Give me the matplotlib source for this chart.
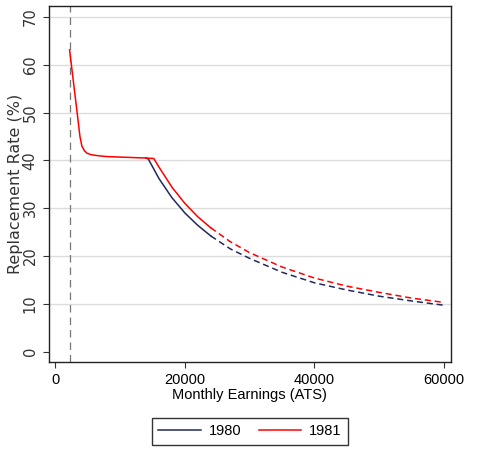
import numpy as np
import matplotlib.pyplot as plt

# Replacement rate by monthly earnings, 1980 vs 1981
# common low-earnings part (both years overlap)
low_x = [2200, 2600, 3000, 3400, 3800, 4100, 4500, 4900, 5500, 6500, 8000, 10000, 12000, 14000]
low_y = [63.1, 58.6, 54.1, 49.6, 45.0, 43.0, 42.0, 41.5, 41.2, 41.0, 40.8, 40.7, 40.6, 40.5]

# 1980: solid part above the plateau, then dashed extrapolation
x80_solid = [14000, 14350, 16000, 18000, 20000, 22000, 24000]
y80_solid = [40.5, 40.3, 36.2, 32.2, 29.0, 26.4, 24.2]
x80_dash = [24000, 27000, 30000, 35000, 40000, 45000, 50000, 55000, 60000]
y80_dash = [24.2, 21.5, 19.5, 16.6, 14.4, 12.9, 11.6, 10.6, 9.7]

# 1981
x81_solid = [14000, 15200, 16000, 18000, 20000, 22000, 24000]
y81_solid = [40.5, 40.4, 38.6, 34.4, 31.0, 28.2, 25.9]
x81_dash = [24000, 27000, 30000, 35000, 40000, 45000, 50000, 55000, 60000]
y81_dash = [25.9, 23.0, 20.7, 17.7, 15.4, 13.7, 12.4, 11.2, 10.3]

vline_x = 2200
yticks = [0, 10, 20, 30, 40, 50, 60, 70]
xticks = [0, 20000, 40000, 60000]

navy = '#1f2b5a'
narrow = ['Liberation Sans', 'DejaVu Sans']

fig = plt.figure(figsize=(4.8, 4.51), dpi=100)
ax = fig.add_axes([0.1015, 0.198, 0.838, 0.7887])

for y in yticks[1:]:
    ax.axhline(y, color='#dcdcdc', lw=1.0, zorder=0)

ax.axvline(vline_x, color='#777777', lw=0.9, ls=(0, (6, 4)), zorder=1)

l80, = ax.plot(x80_solid, y80_solid, color=navy, lw=1.1, label='1980')
ax.plot(x80_dash, y80_dash, color=navy, lw=1.1, ls=(0, (4, 2.5)))
l81, = ax.plot(x81_solid, y81_solid, color='red', lw=1.1, label='1981')
ax.plot(x81_dash, y81_dash, color='red', lw=1.1, ls=(0, (4, 2.5)))
ax.plot(low_x, low_y, color='red', lw=1.1)

ax.set_xlim(-1020, 61065)
ax.set_ylim(-2.1, 72.3)

ax.set_yticks(yticks)
ax.set_yticklabels([str(t) for t in yticks], rotation=90, va='center',
                   fontsize=10.5, color='#333333')
ax.set_xticks(xticks)
ax.set_xticklabels([str(t) for t in xticks], fontsize=10.5, family=narrow)
ax.tick_params(axis='both', direction='out', length=4, width=0.8, color='#333333')
ax.tick_params(axis='x', pad=4)
ax.tick_params(axis='y', pad=4)

ax.set_ylabel('Replacement Rate (%)', fontsize=11.5, color='#333333', labelpad=-0.5)
ax.set_xlabel('Monthly Earnings (ATS)', fontsize=10.5, family=narrow, labelpad=1)

for s in ax.spines.values():
    s.set_linewidth(1.0)
    s.set_color('#222222')

leg = fig.legend(handles=[l80, l81], loc='center', bbox_to_anchor=(0.521, 0.044),
                 ncol=2, frameon=True, fancybox=False, handlelength=2.9,
                 handletextpad=0.55, columnspacing=1.2,
                 prop={'family': narrow, 'size': 10.5}, borderpad=0.45)
leg.get_frame().set_edgecolor('black')
leg.get_frame().set_linewidth(1.0)

plt.savefig('out.png', dpi=100)
